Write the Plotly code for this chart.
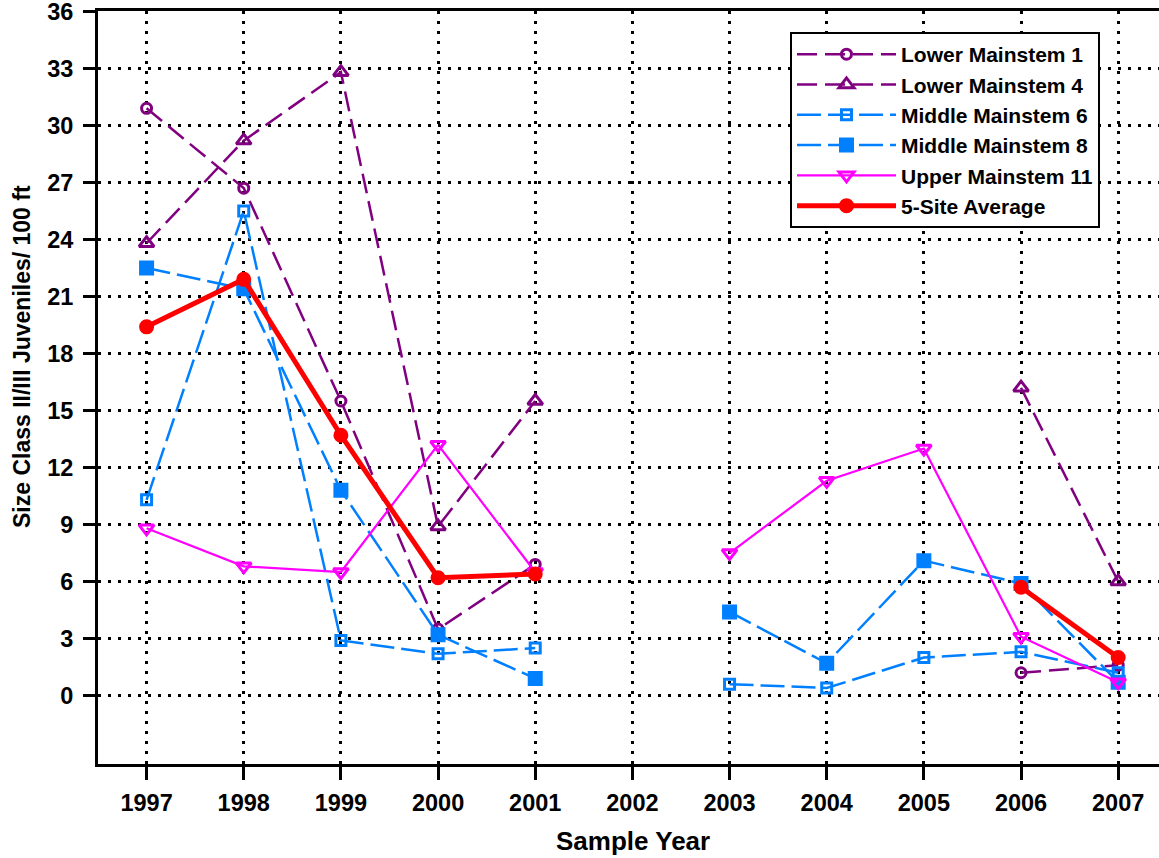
import plotly.graph_objects as go

years = [1997, 1998, 1999, 2000, 2001, 2002, 2003, 2004, 2005, 2006, 2007]
lower_1 = [30.9, 26.7, 15.5, 3.5, 6.9, None, None, None, None, 1.2, 1.6]
lower_4 = [23.8, 29.2, 32.8, 8.9, 15.5, None, None, None, None, 16.2, 6.0]
middle_6 = [10.3, 25.5, 2.9, 2.2, 2.5, None, 0.6, 0.4, 2.0, 2.3, 1.2]
middle_8 = [22.5, 21.4, 10.8, 3.2, 0.9, None, 4.4, 1.7, 7.1, 5.9, 0.7]
upper_11 = [8.8, 6.8, 6.5, 13.2, 6.5, None, 7.5, 11.3, 13.0, 3.1, 0.7]
average = [19.4, 21.9, 13.7, 6.2, 6.4, None, None, None, None, 5.7, 2.0]

y_ticks = list(range(0, 37, 3))

FONT = "Liberation Sans, Arial, sans-serif"
PURPLE = "#800080"
BLUE = "#0080FF"
MAGENTA = "#FF00FF"
RED = "#FF0000"

series = [
    ("Lower Mainstem 1", lower_1, PURPLE, "20px,8px", "circle-open", 2.5, 10),
    ("Lower Mainstem 4", lower_4, PURPLE, "20px,8px", "triangle-up-open", 2.5, 13),
    ("Middle Mainstem 6", middle_6, BLUE, "24px,7px", "square-open", 2.5, 10),
    ("Middle Mainstem 8", middle_8, BLUE, "24px,7px", "square", 2.5, 12),
    ("Upper Mainstem 11", upper_11, MAGENTA, "solid", "triangle-down-open", 2.2, 13),
    ("5-Site Average", average, RED, "solid", "circle", 5, 12),
]

fig = go.Figure()
for name, vals, color, dash, symbol, lw, ms in series:
    fig.add_trace(go.Scatter(
        x=years, y=vals, name=name, mode="lines+markers",
        connectgaps=False,
        line=dict(color=color, width=lw, dash=dash),
        marker=dict(symbol=symbol, size=ms, color=color,
                    line=dict(color=color, width=3)),
    ))

fig.update_layout(
    width=1159, height=858,
    margin=dict(l=98, r=0, t=11, b=94),
    plot_bgcolor="white", paper_bgcolor="white",
    font=dict(family=FONT, size=20, color="black"),
    showlegend=True,
    legend=dict(
        x=(790 - 98) / 1061, y=(764 - 32) / 753, xanchor="left", yanchor="top",
        bgcolor="white", bordercolor="black", borderwidth=2,
        font=dict(family=FONT, size=21, color="black", weight="bold"),
        itemwidth=99, tracegroupgap=0,
    ),
    xaxis=dict(
        range=[1996.5, 2007.42], automargin=False,
        tickmode="array", tickvals=years, ticktext=[str(y) for y in years],
        ticks="outside", ticklen=13, tickwidth=2.5, tickcolor="black",
        showline=True, linecolor="black", linewidth=3, mirror=True,
        showgrid=True, gridcolor="black", gridwidth=2.5, griddash="3px,7px",
        zeroline=False,
        tickfont=dict(family=FONT, size=23.5, color="black", weight="bold"),
        ticklabelstandoff=3, ticklabeloverflow="allow",
    ),
    yaxis=dict(
        range=[-3.6, 36.02], automargin=False,
        tickmode="array", tickvals=y_ticks, ticktext=[str(v) for v in y_ticks],
        ticks="outside", ticklen=12, tickwidth=2.5, tickcolor="black",
        showline=True, linecolor="black", linewidth=3,
        showgrid=True, gridcolor="black", gridwidth=2.5, griddash="3px,7px",
        zeroline=False,
        tickfont=dict(family=FONT, size=23.5, color="black", weight="bold"),
        ticklabelstandoff=5, ticklabeloverflow="allow",
    ),
    annotations=[
        dict(text="Sample Year", xref="paper", yref="paper",
             x=(632.5 - 98) / 1061, y=(764 - 858) / 753,
             xanchor="center", yanchor="bottom", showarrow=False,
             font=dict(family=FONT, size=26, color="black", weight="bold")),
        dict(text="Size Class II/III Juveniles/ 100 ft", xref="paper", yref="paper",
             x=(22 - 98) / 1061, y=(764 - 357) / 753, textangle=-90,
             xanchor="center", yanchor="middle", showarrow=False,
             font=dict(family=FONT, size=23, color="black", weight="bold")),
    ],
)

fig.write_html("out.html", config={"displayModeBar": False},
               post_script="document.body.style.margin='0';")
